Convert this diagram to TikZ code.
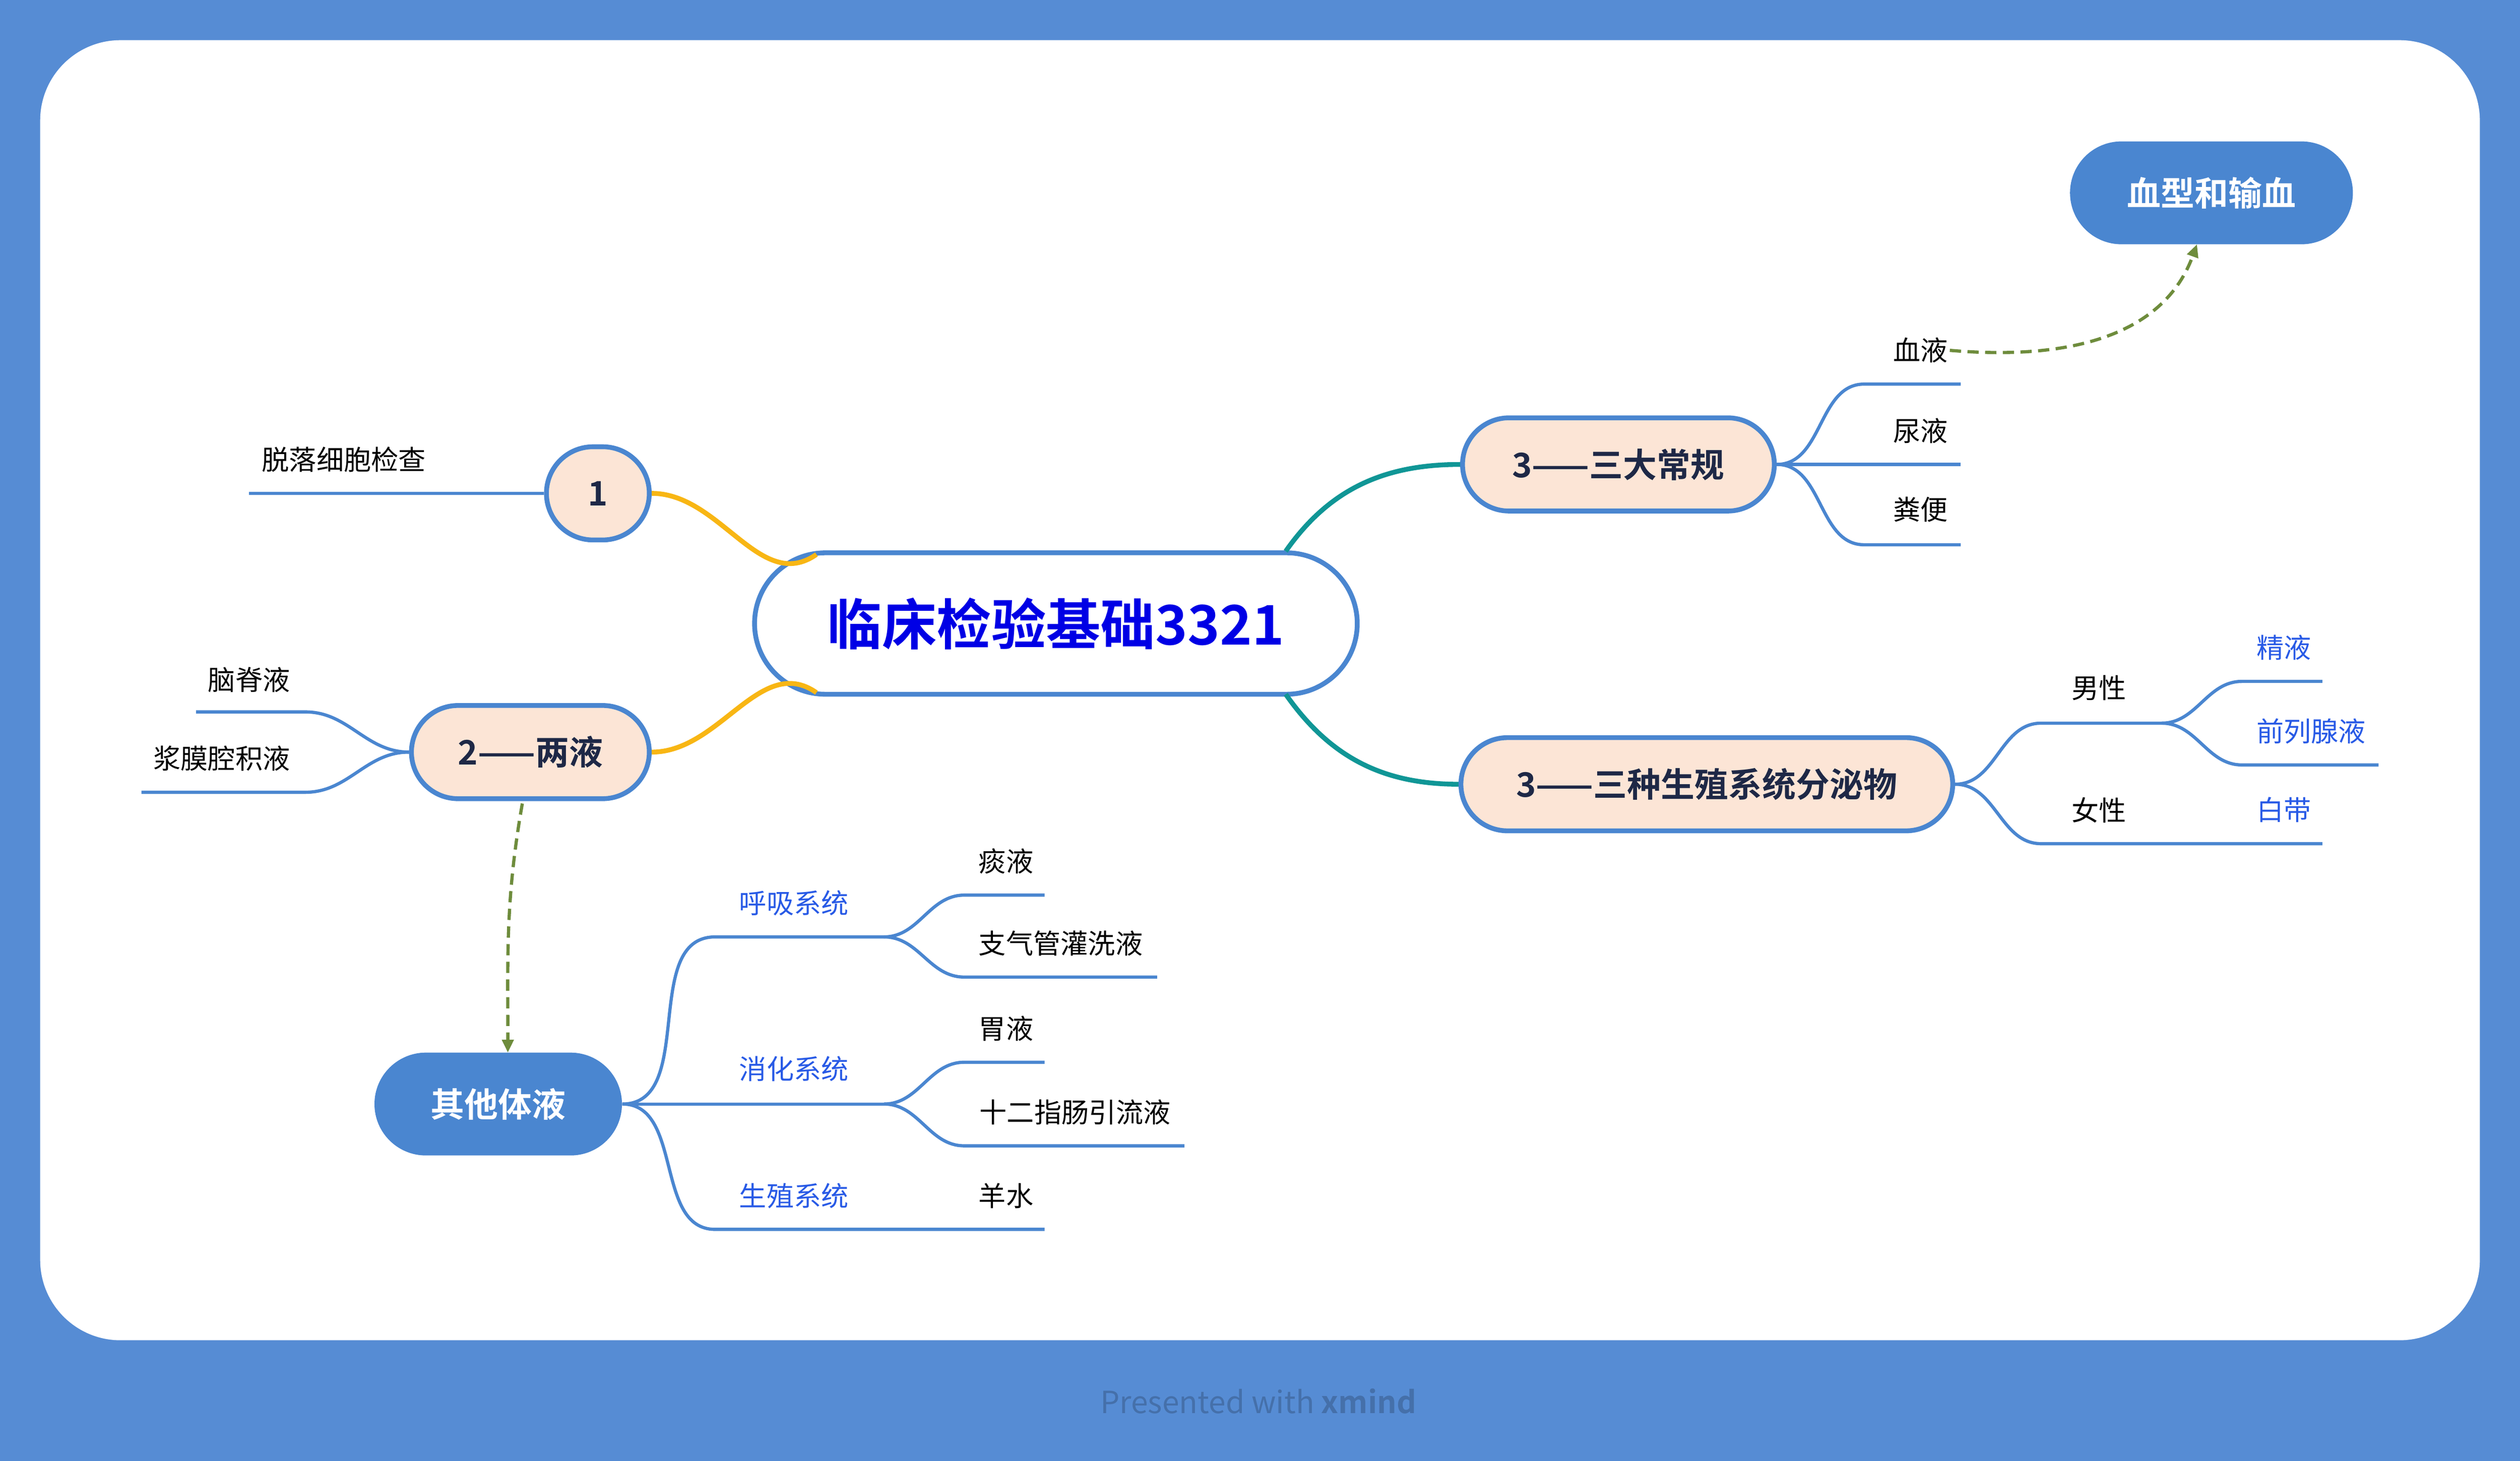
\documentclass[tikz,border=0pt]{standalone}
\usepackage{fontspec}
\setmainfont{Noto Sans CJK SC}[BoldFont={Noto Sans CJK SC Bold}]
\usetikzlibrary{arrows.meta}
\definecolor{bgblue}{RGB}{86,140,212}
\definecolor{lineblue}{RGB}{74,134,208}
\definecolor{peach}{RGB}{252,229,214}
\definecolor{navy}{RGB}{30,40,70}
\definecolor{orangeL}{RGB}{248,182,20}
\definecolor{tealL}{RGB}{16,150,150}
\definecolor{dgreen}{RGB}{110,140,60}
\definecolor{lblue}{RGB}{40,90,230}
\tikzset{
  topic/.style={draw=lineblue,line width=3pt,fill=peach,rounded corners=29pt,minimum height=58pt,font=\fontsize{21}{21}\selectfont\bfseries,text=navy,inner xsep=12pt},
  filled/.style={fill=lineblue,rounded corners=32pt,minimum height=64pt,text=white,font=\fontsize{21}{21}\selectfont\bfseries},
  lbl/.style={font=\fontsize{17}{17}\selectfont,text=black,inner sep=1pt},
  blbl/.style={lbl,text=lblue},
  br/.style={draw=lineblue,line width=2pt},
  dsh/.style={draw=dgreen,line width=2pt,dash pattern=on 7pt off 4pt,-{Triangle[length=8pt,width=7pt]}},
}
\begin{document}
\begin{tikzpicture}[x=1pt,y=-1pt]
\fill[bgblue] (0,0) rectangle (1568,909);
\fill[white,rounded corners=50pt] (25,25) rectangle (1543,834);
\node[font=\fontsize{19}{19}\selectfont,text=black!20!bgblue] (foot) at (783,872) {Presented with \textbf{xmind}};
% central
\node[draw=lineblue,line width=3pt,fill=white,rounded corners=44pt,minimum width=375pt,minimum height=88pt,text=blue!90!black,font=\fontsize{34}{34}\selectfont\bfseries] (c) at (657,388) {临床检验基础3321};
\node[topic,minimum width=64pt,inner xsep=0pt] (n1) at (372,307) {1};
\node[topic,minimum width=148pt] (n2) at (330,468) {2——两液};
\node[topic,minimum width=194pt] (n3) at (1007,289) {3——三大常规};
\node[topic,minimum width=306pt] (n4) at (1062,488) {3——三种生殖系统分泌物};
\node[filled,minimum width=176pt] (xx) at (1376,120) {血型和输血};
\node[filled,minimum width=154pt] (qt) at (310,687) {其他体液};
% main connectors
\draw[orangeL,line width=3pt] (508,345) to[out=215,in=0] (n1.east);
\draw[orangeL,line width=3pt] (508,431) to[out=145,in=0] (n2.east);
\draw[tealL,line width=3pt] (800,343) to[out=55,in=180] (n3.west);
\draw[tealL,line width=3pt] (800,432) to[out=-55,in=180] (n4.west);
% node 1
\coordinate (a1) at (155,307);
\draw[br] (n1.west) -- (a1);
\node[lbl] (t1) at (214,286) {脱落细胞检查};
% node 2
\coordinate (b1) at (190,443); \coordinate (b1e) at (122,443);
\coordinate (b2) at (190,493); \coordinate (b2e) at (88,493);
\draw[br] (n2.west) to[out=180,in=0] (b1) -- (b1e);
\draw[br] (n2.west) to[out=180,in=0] (b2) -- (b2e);
\node[lbl] (t2a) at (155,423) {脑脊液};
\node[lbl] (t2b) at (138,472) {浆膜腔积液};
% node 3
\coordinate (c1) at (1160,239); \coordinate (c1e) at (1220,239);
\coordinate (c2e) at (1220,289);
\coordinate (c3) at (1160,339); \coordinate (c3e) at (1220,339);
\draw[br] (n3.east) to[out=0,in=180] (c1) -- (c1e);
\draw[br] (n3.east) -- (c2e);
\draw[br] (n3.east) to[out=0,in=180] (c3) -- (c3e);
\node[lbl] (t3a) at (1195,218) {血液};
\node[lbl] (t3b) at (1195,268) {尿液};
\node[lbl] (t3c) at (1195,317) {粪便};
\coordinate (xt) at (1367,152);
\draw[dsh] (t3a.east) to[out=-5,in=-110] (xt);
% node 4
\coordinate (d1) at (1270,450); \coordinate (d1e) at (1345,450);
\coordinate (d11) at (1395,424); \coordinate (d11e) at (1445,424);
\coordinate (d12) at (1395,476); \coordinate (d12e) at (1480,476);
\coordinate (d2) at (1270,525); \coordinate (d2e) at (1445,525);
\draw[br] (n4.east) to[out=0,in=180] (d1) -- (d1e);
\draw[br] (d1e) to[out=0,in=180] (d11) -- (d11e);
\draw[br] (d1e) to[out=0,in=180] (d12) -- (d12e);
\draw[br] (n4.east) to[out=0,in=180] (d2) -- (d2e);
\node[lbl] (t4a) at (1306,428) {男性};
\node[blbl] (t4b) at (1421,403) {精液};
\node[blbl] (t4c) at (1438,455) {前列腺液};
\node[lbl] (t4d) at (1306,504) {女性};
\node[blbl] (t4e) at (1421,504) {白带};
% other fluids
\coordinate (n2b) at (325,500); \coordinate (qtt) at (316,655);
\draw[dsh] (n2b) to[out=-100,in=90] (qtt);
\coordinate (e1) at (445,583); \coordinate (e1e) at (550,583);
\coordinate (e11) at (600,557); \coordinate (e11e) at (650,557);
\coordinate (e12) at (600,608); \coordinate (e12e) at (720,608);
\coordinate (e2) at (445,687); \coordinate (e2e) at (550,687);
\coordinate (e21) at (600,661); \coordinate (e21e) at (650,661);
\coordinate (e22) at (600,713); \coordinate (e22e) at (737,713);
\coordinate (e3) at (445,765); \coordinate (e3e) at (650,765);
\draw[br] (qt.east) to[out=0,in=180] (e1) -- (e1e);
\draw[br] (e1e) to[out=0,in=180] (e11) -- (e11e);
\draw[br] (e1e) to[out=0,in=180] (e12) -- (e12e);
\draw[br] (qt.east) -- (e2e);
\draw[br] (e2e) to[out=0,in=180] (e21) -- (e21e);
\draw[br] (e2e) to[out=0,in=180] (e22) -- (e22e);
\draw[br] (qt.east) to[out=0,in=180] (e3) -- (e3e);
\node[blbl] (u1) at (494,562) {呼吸系统};
\node[lbl] (u11) at (626,536) {痰液};
\node[lbl] (u12) at (660,587) {支气管灌洗液};
\node[blbl] (u2) at (494,665) {消化系统};
\node[lbl] (u21) at (626,640) {胃液};
\node[lbl] (u22) at (669,692) {十二指肠引流液};
\node[blbl] (u3) at (494,744) {生殖系统};
\node[lbl] (u31) at (626,744) {羊水};
\end{tikzpicture}
\end{document}
